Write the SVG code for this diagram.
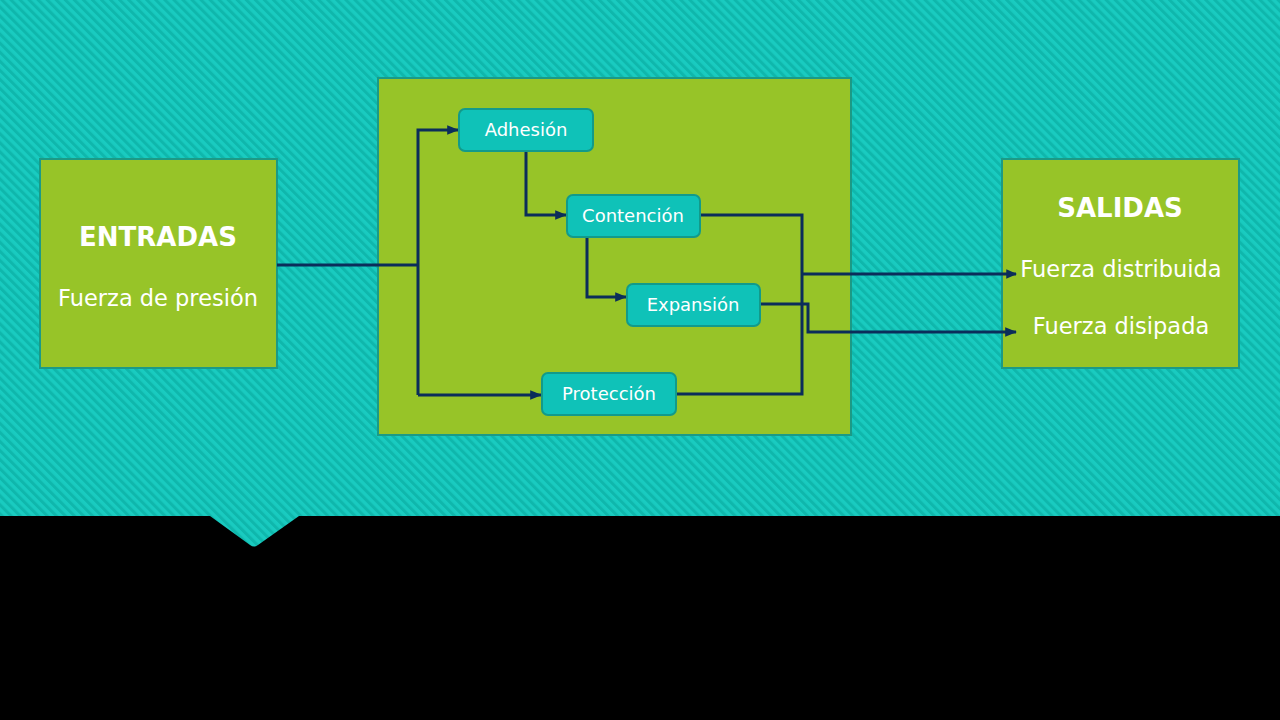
<svg xmlns="http://www.w3.org/2000/svg" width="1280" height="720" viewBox="0 0 1280 720">
<defs>
<pattern id="stripes" patternUnits="userSpaceOnUse" width="6.4" height="6.4" patternTransform="rotate(-45)">
<rect width="6.4" height="6.4" fill="#19cbc0"/>
<rect width="3" height="6.4" fill="#0fb7ac"/>
</pattern>
<marker id="ah" viewBox="0 0 10 10" refX="9" refY="5" markerWidth="4" markerHeight="4" orient="auto" markerUnits="strokeWidth">
<path d="M0,1 L10,5 L0,9 z" fill="#0b2d5a"/>
</marker>
<marker id="ah2" viewBox="0 0 10 10" refX="9" refY="5" markerWidth="3.6" markerHeight="3.6" orient="auto" markerUnits="strokeWidth">
<path d="M0,0.5 L10,5 L0,9.5 z" fill="#0b2d5a"/>
</marker>
</defs>
<style>
.big{fill:#97c428;stroke:#1b9a86;stroke-width:2}
.node rect{fill:#0fc2b8;stroke:#129a8a;stroke-width:2}
.node text{font-family:"DejaVu Sans",sans-serif;font-size:18px;fill:#ffffff;text-anchor:middle}
.title{font-family:"DejaVu Sans",sans-serif;font-size:26px;font-weight:bold;fill:#ffffff;text-anchor:middle}
.sub{font-family:"DejaVu Sans",sans-serif;font-size:22.5px;fill:#ffffff;text-anchor:middle}
.c{fill:none;stroke:#0b2d5a;stroke-width:3}
</style>
<rect width="1280" height="720" fill="url(#stripes)"/>
<path d="M0,516 L210,516 L250,545 Q254,548 258,545 L299,516 L1280,516 L1280,720 L0,720 z" fill="#000000"/>
<g id="entradas">
<rect class="big" x="40" y="159" width="237" height="209"/>
<text class="title" x="158" y="246">ENTRADAS</text>
<text class="sub" x="158" y="306">Fuerza de presión</text>
</g>
<g id="proceso">
<rect class="big" x="378" y="78" width="473" height="357"/>
</g>
<g id="salidas">
<rect class="big" x="1002" y="159" width="237" height="209"/>
<text class="title" x="1120" y="217">SALIDAS</text>
<text class="sub" x="1121" y="277">Fuerza distribuida</text>
<text class="sub" x="1121" y="334">Fuerza disipada</text>
</g>
<g id="connectors">
<path class="c" d="M277,265 L418,265"/>
<path class="c" d="M418,395 L418,130 L458,130" marker-end="url(#ah)"/>
<path class="c" d="M418,395 L541,395" marker-end="url(#ah)"/>
<path class="c" d="M526,151 L526,215 L566,215" marker-end="url(#ah)"/>
<path class="c" d="M587,233 L587,297 L626,297" marker-end="url(#ah)"/>
<path class="c" d="M700,215 L802,215 L802,394 L676,394"/>
<path class="c" d="M802,274 L1016,274" stroke-width="4.5" marker-end="url(#ah2)"/>
<path class="c" d="M760,304 L808,304 L808,332 L1016,332" marker-end="url(#ah)"/>
</g>
<g id="adhesion" class="node">
<rect x="459" y="109" width="134" height="42" rx="6"/>
<text x="526" y="136">Adhesión</text>
</g>
<g id="contencion" class="node">
<rect x="567" y="195" width="133" height="42" rx="6"/>
<text x="633" y="222">Contención</text>
</g>
<g id="expansion" class="node">
<rect x="627" y="284" width="133" height="42" rx="6"/>
<text x="693" y="311">Expansión</text>
</g>
<g id="proteccion" class="node">
<rect x="542" y="373" width="134" height="42" rx="6"/>
<text x="609" y="400">Protección</text>
</g>
</svg>
